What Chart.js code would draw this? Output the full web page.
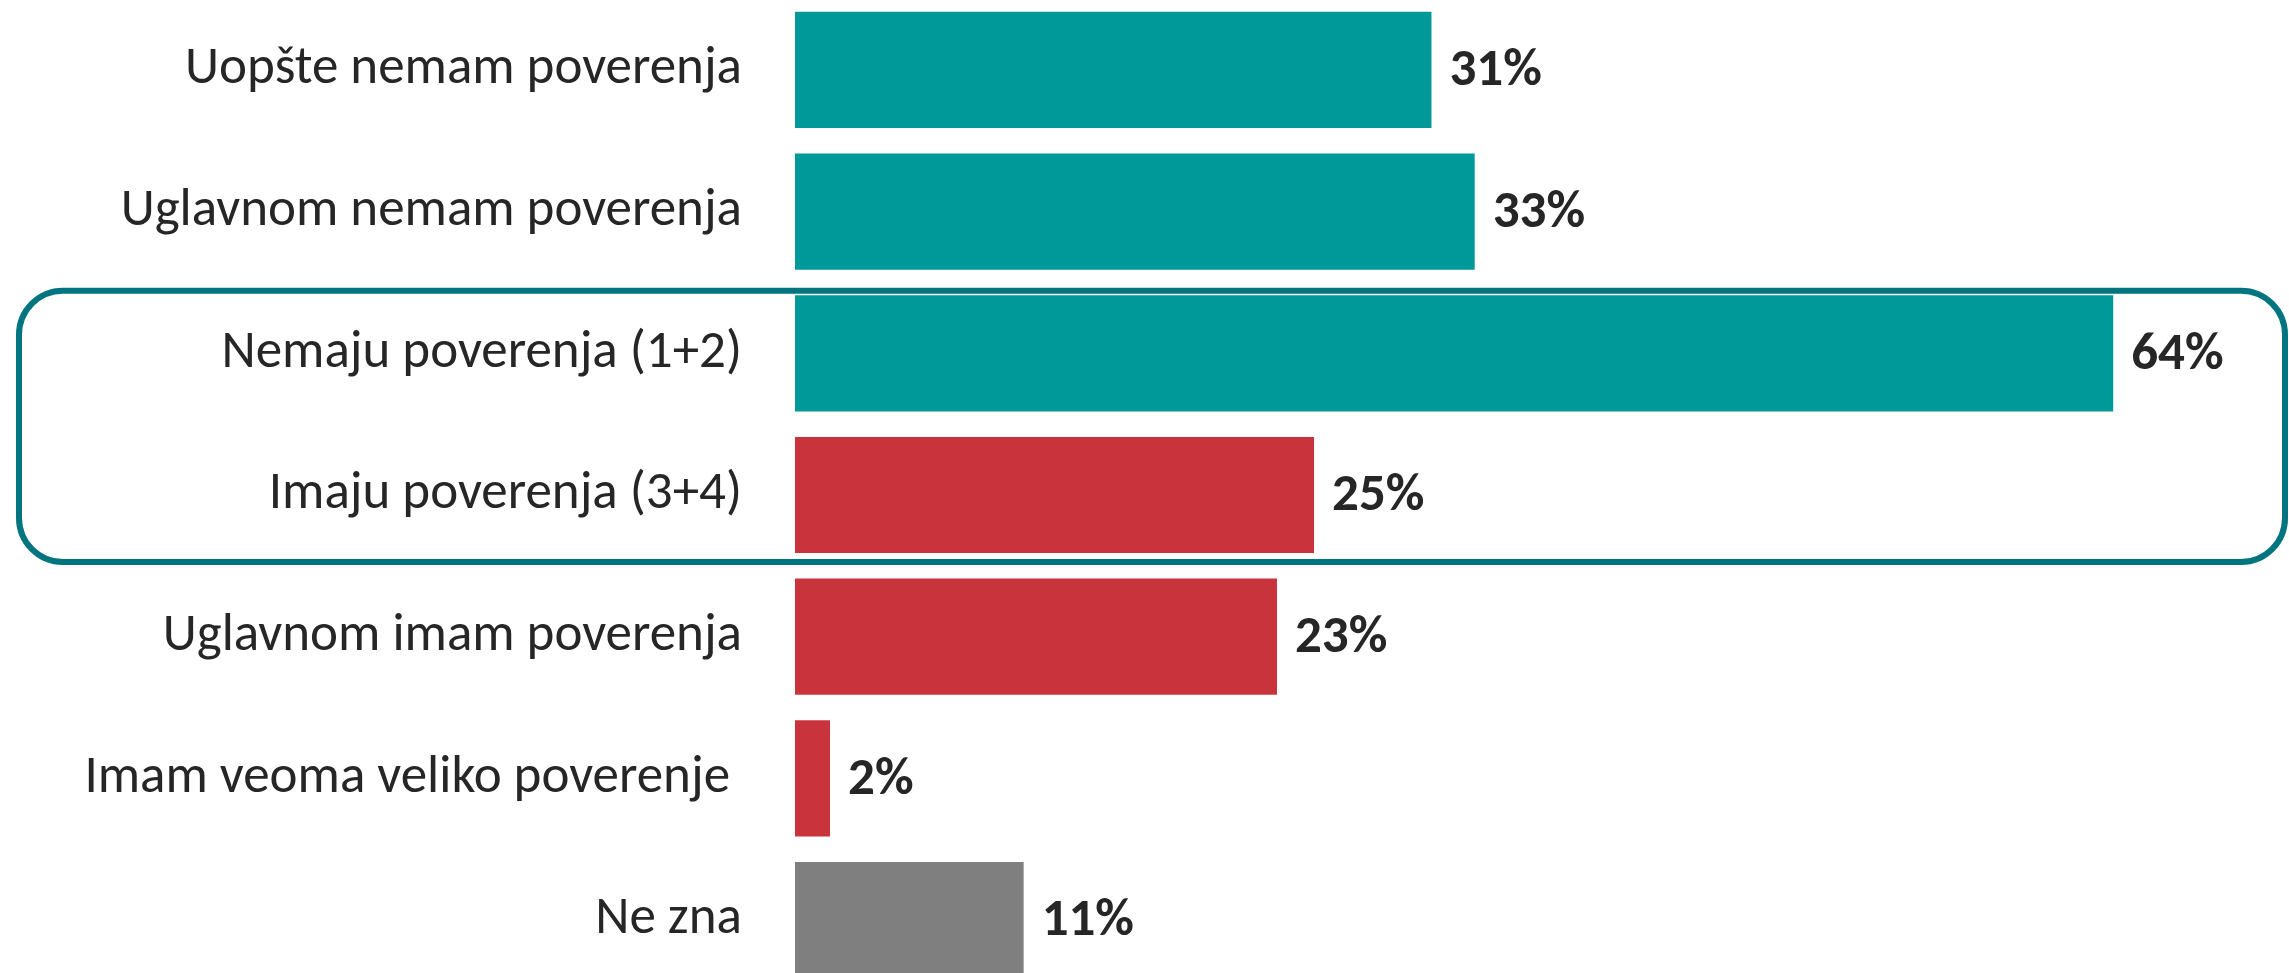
<!DOCTYPE html>
<html>
<head>
<meta charset="utf-8">
<script src="https://cdn.jsdelivr.net/npm/chart.js@4.4.1/dist/chart.umd.min.js"></script>
<style>
  html, body { margin: 0; padding: 0; background: #ffffff; overflow: hidden; }
  #wrap { position: absolute; left: 0; top: -1px; width: 2289px; height: 992px; }
</style>
</head>
<body>
<div id="wrap"><canvas id="c" width="2289" height="992"></canvas></div>
<script>
const categories = [
  "Uopšte nemam poverenja",
  "Uglavnom nemam poverenja",
  "Nemaju poverenja (1+2)",
  "Imaju poverenja (3+4)",
  "Uglavnom imam poverenja",
  "Imam veoma veliko poverenje ",
  "Ne zna"
];
const values = [30.9, 33.0, 64.0, 25.2, 23.4, 1.7, 11.1];
const barColors = ["#009999", "#009999", "#009999", "#C9343C", "#C9343C", "#C9343C", "#7F7F7F"];
const highlighted = [2, 3];

const FONT = "Carlito, Lato, 'Open Sans', sans-serif";

const valueLabelPlugin = {
  id: 'valueLabels',
  afterDatasetsDraw(chart) {
    const ctx = chart.ctx;
    const meta = chart.getDatasetMeta(0);
    ctx.save();
    ctx.font = "bold 53px " + FONT;
    ctx.fillStyle = "#262626";
    ctx.textAlign = "left";
    ctx.textBaseline = "middle";
    meta.data.forEach((bar, i) => {
      ctx.fillText(Math.round(values[i]) + "%", bar.x + 18, bar.y + 2);
    });
    ctx.restore();
  }
};

const boxPlugin = {
  id: 'highlightBox',
  afterDatasetsDraw(chart) {
    const y = chart.scales.y;
    const ctx = chart.ctx;
    const top = y.getPixelForValue(highlighted[0]) - 62.5;
    const bottom = y.getPixelForValue(highlighted[1]) + 67;
    const left = 19, right = 2285;
    ctx.save();
    ctx.strokeStyle = "#007580";
    ctx.lineWidth = 6;
    ctx.beginPath();
    ctx.roundRect(left, top, right - left, bottom - top, 44);
    ctx.stroke();
    ctx.restore();
  }
};

new Chart(document.getElementById('c'), {
  type: 'bar',
  data: {
    labels: categories,
    datasets: [{
      data: values,
      backgroundColor: barColors,
      borderWidth: 0,
      categoryPercentage: 0.82,
      barPercentage: 1.0
    }]
  },
  options: {
    indexAxis: 'y',
    responsive: false,
    devicePixelRatio: 1,
    animation: false,
    layout: { padding: { left: 0, right: 11, top: 0, bottom: 0 } },
    plugins: { legend: { display: false }, tooltip: { enabled: false } },
    scales: {
      x: { display: false, min: 0, max: 72 },
      y: {
        display: true,
        border: { display: false },
        grid: { display: false, drawTicks: false, tickLength: 0 },
        ticks: {
          padding: 53,
          color: "#262626",
          font: { family: FONT, size: 53 }
        },
        afterFit(scale) {
          scale.width = 795;
          scale.paddingTop = 0;
          scale.paddingBottom = 0;
        }
      }
    }
  },
  plugins: [valueLabelPlugin, boxPlugin]
});
</script>
</body>
</html>
